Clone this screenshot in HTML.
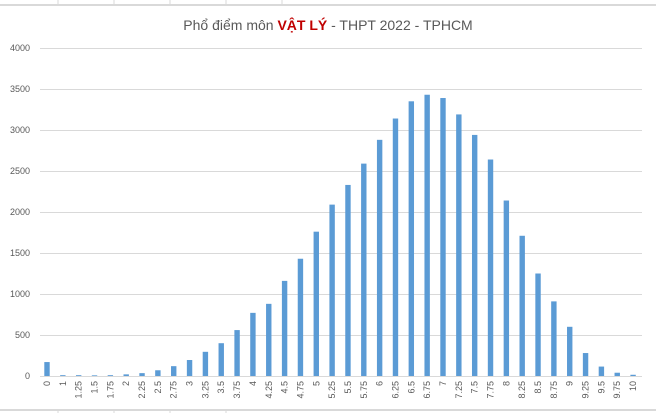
<!DOCTYPE html><html><head><meta charset="utf-8"><style>body{margin:0;background:#fff}svg{display:block}</style></head><body>
<svg width="656" height="413" xmlns="http://www.w3.org/2000/svg" font-family="Liberation Sans, sans-serif">
<rect width="656" height="413" fill="#fff"/>
<g stroke="#d9d9d9"><line x1="58" y1="0" x2="58" y2="5"/><line x1="114" y1="0" x2="114" y2="5"/><line x1="170" y1="0" x2="170" y2="5"/><line x1="226" y1="0" x2="226" y2="5"/><line x1="282" y1="0" x2="282" y2="5"/><line x1="0" y1="5" x2="656" y2="5" stroke-width="2"/><line x1="0" y1="410" x2="656" y2="410" stroke-width="2"/><line x1="58" y1="410" x2="58" y2="413"/><line x1="114" y1="410" x2="114" y2="413"/><line x1="170" y1="410" x2="170" y2="413"/><line x1="226" y1="410" x2="226" y2="413"/></g>
<text x="328" y="30" text-anchor="middle" font-size="14" fill="#595959">Phổ điểm môn <tspan fill="#c00000" font-weight="bold">VẬT LÝ</tspan> - THPT 2022 - TPHCM</text>
<g id="grid" stroke="#d9d9d9" stroke-width="1"></g>
<g id="yl" font-size="9" fill="#595959" text-anchor="end"></g>
<g id="bars" fill="#5b9bd5"></g>
<g id="xl" font-size="9" fill="#595959"></g>
<script>
var g=document.getElementById('grid'),yl=document.getElementById('yl'),b=document.getElementById('bars'),xl=document.getElementById('xl'),ns='http://www.w3.org/2000/svg';
function el(t,a,p,txt){var e=document.createElementNS(ns,t);for(var k in a)e.setAttribute(k,a[k]);if(txt!=null)e.textContent=txt;p.appendChild(e);}
var y0=376,s=328/4000;
for(var v=0;v<=4000;v+=500){var y=y0-v*s;el('line',{x1:40,x2:642,y1:y+.5,y2:y+.5},g);el('text',{x:30,y:y+3},yl,v);}
var labs=['0'],vals=[170,10,10,8,10,20,35,70,120,195,295,400,560,770,880,1160,1430,1760,2090,2330,2590,2880,3140,3350,3430,3390,3190,2940,2640,2140,1710,1250,910,600,280,115,40,15];
for(var i=4;i<=40;i++)labs.push(String(i/4));
for(var i=0;i<38;i++){var x=47+i*15.84;var h=vals[i]*s;el('rect',{x:x-2.7,y:y0-h,width:5.4,height:h},b);
el('text',{x:0,y:0,transform:'translate('+(x+3)+',381) rotate(-90)','text-anchor':'end'},xl,labs[i]);}
</script>
</svg></body></html>
